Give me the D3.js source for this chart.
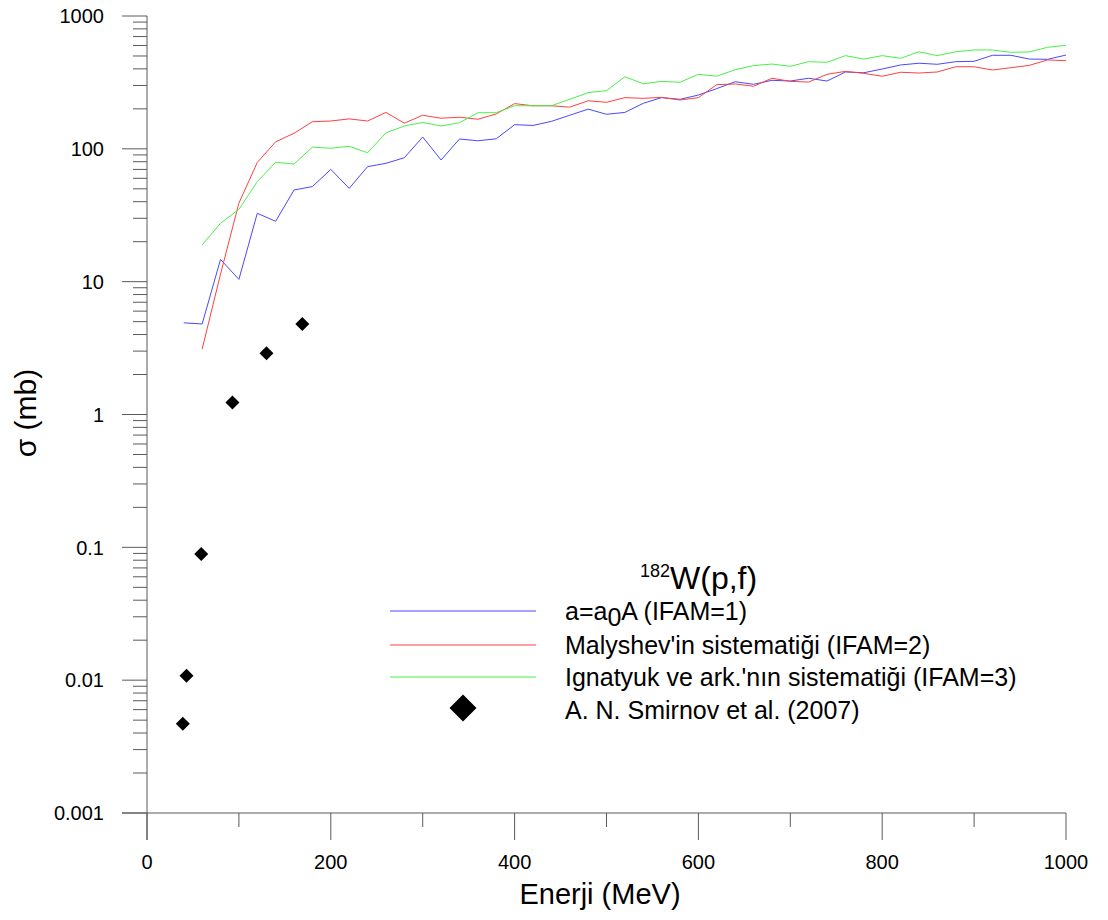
<!DOCTYPE html>
<html>
<head>
<meta charset="utf-8">
<script src="https://cdn.jsdelivr.net/npm/d3@7"></script>
<style>
    body { margin: 0; background: #fff; }
    text { font-family: "Liberation Sans", Arial, sans-serif; fill: #000; }
</style>
</head>
<body>
<div id="chart"></div>
<script>
// energies (MeV) for the calculated curves
var energy = [40, 60, 80, 100, 120, 140, 160, 180, 200, 220, 240, 260, 280, 300, 320, 340, 360, 380, 400,
    420, 440, 460, 480, 500, 520, 540, 560, 580, 600, 620, 640, 660, 680, 700, 720, 740, 760, 780, 800,
    820, 840, 860, 880, 900, 920, 940, 960, 980, 1000];

// IFAM=1  a=a0A
var ifam1 = [4.9, 4.8, 14.7, 10.4, 32.7, 28.5, 49, 52, 70, 50.4, 73.4, 77.8, 85.7, 122.7, 82.4, 118.6, 115, 119, 152,
    150, 161, 179, 199, 182, 188, 220, 243, 236, 254, 284, 320, 306, 328, 324, 340, 324, 379, 374, 399,
    428, 441, 433, 453, 456, 506, 506, 474, 472, 508];

// IFAM=2  Malyshev
var ifam2 = [null, 3.1, 11.4, 39, 79, 113, 131, 160, 162, 168, 162, 188, 156, 179, 170, 173, 167, 183, 219,
    211, 211, 206, 230, 224, 243, 240, 244, 233, 243, 304, 308, 296, 340, 322, 318, 364, 383, 370, 352,
    377, 372, 379, 415, 415, 392, 408, 425, 467, 461];

// IFAM=3  Ignatyuk
var ifam3 = [null, 18.9, 27.5, 35, 56.6, 79.2, 76.9, 103, 101, 104.5, 93.5, 132, 148.6, 158, 148.6, 157, 187, 187, 211,
    211, 211, 236, 265, 274, 349, 309, 322, 317, 364, 352, 394, 423, 435, 418, 453, 448, 503, 474, 503,
    480, 538, 503, 538, 555, 555, 533, 536, 581, 602];

// A. N. Smirnov et al. (2007)
var expEnergy = [39, 43, 59, 93, 130, 169];
var expSigma = [0.0047, 0.0108, 0.089, 1.23, 2.89, 4.8];

var xTicks = [0, 200, 400, 600, 800, 1000];
var xMinorTicks = [100, 300, 500, 700, 900];
var yTicks = [0.001, 0.01, 0.1, 1, 10, 100, 1000];
var yTickLabels = ["0.001", "0.01", "0.1", "1", "10", "100", "1000"];

var seriesNames = ["a=a0A (IFAM=1)", "Malyshev'in sistematiği (IFAM=2)", "Ignatyuk ve ark.'nın sistematiği (IFAM=3)"];
var seriesColors = ["#4848ff", "#ff4040", "#48f048"];

var width = 1108,
    height = 920;

var svg = d3.select("#chart").append("svg")
    .attr("width", width)
    .attr("height", height);

var x = d3.scaleLinear().domain([0, 1000]).range([147, 1066]);
var y = d3.scaleLog().domain([0.001, 1000]).range([813, 16]);

var axisColor = "#5a5a5a";

// minor y ticks (2..9 of each decade)
var yMinor = [];
yTicks.slice(0, -1).forEach(function (d) {
    for (var k = 2; k < 10; k++) yMinor.push(d * k);
});

var yAxis = svg.append("g").attr("class", "y axis");
yAxis.append("line")
    .attr("x1", x(0)).attr("x2", x(0))
    .attr("y1", y(1000)).attr("y2", 840)
    .style("stroke", axisColor);
yAxis.selectAll(".major").data(yTicks).enter().append("line")
    .attr("class", "major")
    .attr("x1", 122).attr("x2", x(0))
    .attr("y1", function (d) { return y(d); })
    .attr("y2", function (d) { return y(d); })
    .style("stroke", axisColor);
yAxis.selectAll(".minor").data(yMinor).enter().append("line")
    .attr("class", "minor")
    .attr("x1", 133).attr("x2", x(0))
    .attr("y1", function (d) { return y(d); })
    .attr("y2", function (d) { return y(d); })
    .style("stroke", axisColor);
yAxis.selectAll(".lbl").data(yTicks).enter().append("text")
    .attr("class", "lbl")
    .attr("x", 104)
    .attr("y", function (d) { return y(d); })
    .attr("dy", "0.36em")
    .style("text-anchor", "end")
    .style("font-size", "20px")
    .text(function (d, i) { return yTickLabels[i]; });

var xAxis = svg.append("g").attr("class", "x axis");
xAxis.append("line")
    .attr("x1", 122).attr("x2", x(1000))
    .attr("y1", y(0.001)).attr("y2", y(0.001))
    .style("stroke", axisColor);
xAxis.selectAll(".major").data(xTicks).enter().append("line")
    .attr("class", "major")
    .attr("x1", function (d) { return x(d); })
    .attr("x2", function (d) { return x(d); })
    .attr("y1", y(0.001)).attr("y2", 840)
    .style("stroke", axisColor);
xAxis.selectAll(".minor").data(xMinorTicks).enter().append("line")
    .attr("class", "minor")
    .attr("x1", function (d) { return x(d); })
    .attr("x2", function (d) { return x(d); })
    .attr("y1", y(0.001)).attr("y2", 827)
    .style("stroke", axisColor);
xAxis.selectAll(".lbl").data(xTicks).enter().append("text")
    .attr("class", "lbl")
    .attr("x", function (d) { return x(d); })
    .attr("y", 869)
    .style("text-anchor", "middle")
    .style("font-size", "20px")
    .text(function (d) { return d; });

// axis titles
svg.append("text")
    .attr("x", 600)
    .attr("y", 904)
    .style("text-anchor", "middle")
    .style("font-size", "29px")
    .text("Enerji (MeV)");

svg.append("text")
    .attr("transform", "translate(36,413) rotate(-90)")
    .style("text-anchor", "middle")
    .style("font-size", "30px")
    .text("σ (mb)");

// curves
var line = d3.line()
    .defined(function (d) { return d[1] != null; })
    .x(function (d) { return x(d[0]); })
    .y(function (d) { return y(d[1]); });

[ifam1, ifam2, ifam3].forEach(function (vals, i) {
    svg.append("path")
        .attr("class", "line")
        .attr("d", line(energy.map(function (e, j) { return [e, vals[j]]; })))
        .style("stroke", seriesColors[i])
        .style("stroke-width", 1)
        .style("fill", "none");
});

// experimental points
var diamond = function (s) {
    return "M0," + (-s) + "L" + s + ",0L0," + s + "L" + (-s) + ",0Z";
};
svg.selectAll(".exp").data(expEnergy).enter().append("path")
    .attr("class", "exp")
    .attr("transform", function (d, i) {
        return "translate(" + x(d) + "," + y(expSigma[i]) + ")";
    })
    .attr("d", diamond(7))
    .style("fill", "#000");

// legend
var legend = svg.append("g").attr("class", "legend");
var title = legend.append("text")
    .attr("x", 640)
    .attr("y", 589)
    .style("font-size", "32px");
title.append("tspan")
    .style("font-size", "18px")
    .attr("dy", "-12")
    .text("182");
title.append("tspan")
    .attr("dy", "12")
    .text("W(p,f)");

var legendY = [611, 645, 677];
seriesNames.forEach(function (name, i) {
    legend.append("line")
        .attr("x1", 390).attr("x2", 536)
        .attr("y1", legendY[i]).attr("y2", legendY[i])
        .style("stroke", seriesColors[i])
        .style("stroke-width", 1);
    var t = legend.append("text")
        .attr("x", 565)
        .attr("y", legendY[i])
        .attr("dy", "0.36em")
        .style("font-size", "25px");
    if (i === 0) {
        t.append("tspan").text("a=a");
        t.append("tspan").attr("dy", "6").text("0");
        t.append("tspan").attr("dy", "-6").text("A (IFAM=1)");
    } else {
        t.text(name);
    }
});

legend.append("path")
    .attr("transform", "translate(463,708)")
    .attr("d", diamond(13.5))
    .style("fill", "#000");
legend.append("text")
    .attr("x", 565)
    .attr("y", 710)
    .attr("dy", "0.36em")
    .style("font-size", "25px")
    .text("A. N. Smirnov et al. (2007)");
</script>
</body>
</html>
